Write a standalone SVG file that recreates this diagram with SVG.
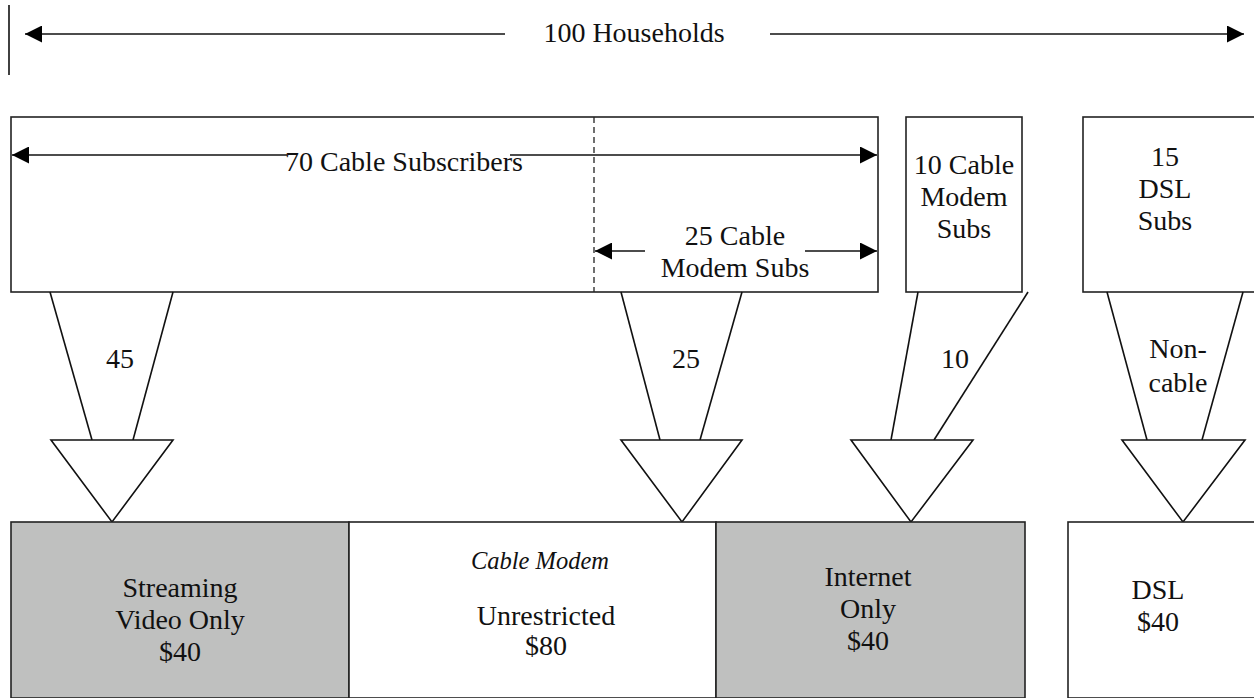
<svg xmlns="http://www.w3.org/2000/svg" width="1254" height="698" viewBox="0 0 1254 698">
<defs>
<marker id="ah" viewBox="0 0 10 10" refX="10" refY="5" markerWidth="17" markerHeight="17" markerUnits="userSpaceOnUse" orient="auto-start-reverse">
<path d="M0,0 L10,5 L0,10 z" fill="#000"/>
</marker>
<style>
text{font-family:"Liberation Serif","Times New Roman",serif;font-size:28px;fill:#111;text-anchor:middle}
.it{font-style:italic;font-size:24.5px}
.box{fill:#fff;stroke:#222;stroke-width:1.6}
.grey{fill:#bfc0bf;stroke:#222;stroke-width:1.6}
.ln{stroke:#111;stroke-width:1.6;fill:none}
.blk{fill:#fff;stroke:#111;stroke-width:1.6;stroke-linejoin:miter}
</style>
</defs>
<rect width="1254" height="698" fill="#fff"/>

<g id="households">
<line class="ln" x1="9" y1="5" x2="9" y2="75"/>
<line class="ln" x1="505" y1="34" x2="25" y2="34" marker-end="url(#ah)"/>
<line class="ln" x1="770" y1="34" x2="1244" y2="34" marker-end="url(#ah)"/>
<text x="634" y="42">100 Households</text>
</g>

<g id="cable-subscribers">
<rect class="box" x="11" y="117" width="867" height="175"/>
<line x1="594" y1="117" x2="594" y2="292" stroke="#222" stroke-width="1.3" stroke-dasharray="6,4"/>
<line class="ln" x1="287" y1="155" x2="12" y2="155" marker-end="url(#ah)"/>
<line class="ln" x1="510" y1="155" x2="877" y2="155" marker-end="url(#ah)"/>
<text x="404" y="171">70 Cable Subscribers</text>
<line class="ln" x1="645" y1="251" x2="595" y2="251" marker-end="url(#ah)"/>
<line class="ln" x1="805" y1="251" x2="877" y2="251" marker-end="url(#ah)"/>
<text x="735" y="245">25 Cable</text>
<text x="735" y="277">Modem Subs</text>
</g>

<g id="cable-modem-10">
<rect class="box" x="906" y="117" width="116" height="175"/>
<text x="964" y="174">10 Cable</text>
<text x="964" y="206">Modem</text>
<text x="964" y="238">Subs</text>
</g>

<g id="dsl-15">
<rect class="box" x="1083" y="117" width="180" height="175"/>
<text x="1165" y="166">15</text>
<text x="1165" y="198">DSL</text>
<text x="1165" y="230">Subs</text>
</g>

<g id="connectors">
<polyline class="ln" points="50,292 92,440"/>
<polyline class="ln" points="173,292 133,440"/>
<polygon class="blk" points="51,440 173,440 112,522"/>
<text x="120" y="368">45</text>
<polyline class="ln" points="621,292 660,440"/>
<polyline class="ln" points="742,292 700,440"/>
<polygon class="blk" points="621,440 742,440 682,522"/>
<text x="686" y="368">25</text>
<polyline class="ln" points="918,292 891,440"/>
<polyline class="ln" points="1028,292 934,440"/>
<polygon class="blk" points="851,440 973,440 911,522"/>
<text x="955" y="368">10</text>
<polyline class="ln" points="1107,292 1147,440"/>
<polyline class="ln" points="1243,292 1202,440"/>
<polygon class="blk" points="1122,440 1245,440 1183,522"/>
<text x="1178" y="358">Non-</text>
<text x="1178" y="392">cable</text>
</g>

<g id="streaming">
<rect class="grey" x="11" y="522" width="338" height="176"/>
<text x="180" y="597">Streaming</text>
<text x="180" y="629">Video Only</text>
<text x="180" y="661">$40</text>
</g>

<g id="unrestricted">
<rect class="box" x="349" y="522" width="367" height="176"/>
<text class="it" x="540" y="569">Cable Modem</text>
<text x="546" y="625">Unrestricted</text>
<text x="546" y="655">$80</text>
</g>

<g id="internet-only">
<rect class="grey" x="716" y="522" width="309" height="176"/>
<text x="868" y="586">Internet</text>
<text x="868" y="618">Only</text>
<text x="868" y="650">$40</text>
</g>

<g id="dsl">
<rect class="box" x="1068" y="522" width="195" height="176"/>
<text x="1158" y="599">DSL</text>
<text x="1158" y="631">$40</text>
</g>
</svg>
